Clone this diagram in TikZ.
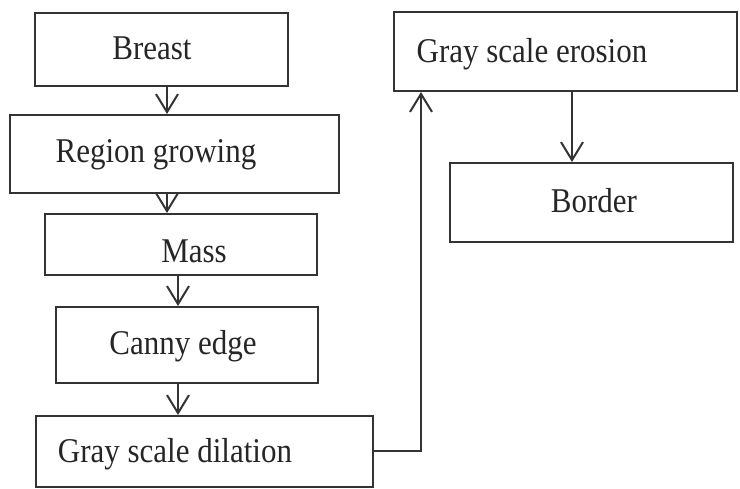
\documentclass[tikz,border=0pt]{standalone}
\usepackage{fontspec}
\setmainfont{Liberation Serif}
\usetikzlibrary{arrows.meta}
\tikzset{
  box/.style={draw=black!80,line width=2pt,inner sep=0pt},
  lbl/.style={inner sep=0pt,anchor=base,text=black!85,font=\fontsize{31}{36}\selectfont},
  arr/.style={draw=black!80,line width=2pt,-{Straight Barb[length=18pt,width=22pt]}}
}
\begin{document}
\begin{tikzpicture}[x=1pt,y=-1pt]
\useasboundingbox (0,0) rectangle (740,489);
%boxes
\foreach\n/\x/\y/\w/\h in {breast/161.5/49.5/253/73,region/174.5/154/329/78,mass/181/244.5/272/61,canny/187/345/262/76,dilation/204.5/451.5/337/71,erosion/565.5/51.5/343/79,border/591.5/202.5/283/79} {
  \node[box,minimum width=\w pt,minimum height=\h pt] (\n) at (\x,\y) {};
}
%texts
\foreach\n/\x/\y/\t in {breast/152/60/Breast,region/156/163/Region growing,mass/194/263/Mass,canny/183/355/Canny edge,dilation/175/462/Gray scale dilation,erosion/532/63/Gray scale erosion,border/594/213/Border} {
  \node[lbl] (\n-t) at (\x,\y) {\scalebox{1}[1.12]{\t}};
}
%arrows
\draw[arr] ([xshift=5.5pt]breast.south) -- ([xshift=5.5pt]breast.south |- region.north);
\draw[arr] ([xshift=-7.5pt]region.south) -- ([xshift=-7.5pt]region.south |- mass.north);
\draw[arr] ([xshift=-3pt]mass.south) -- ([xshift=-3pt]mass.south |- canny.north);
\draw[arr] ([xshift=-9pt]canny.south) -- ([xshift=-9pt]canny.south |- dilation.north);
\draw[arr] (dilation.east) -| ([xshift=28pt]erosion.south west);
\draw[arr] ([xshift=6.5pt]erosion.south) -- ([xshift=6.5pt]erosion.south |- border.north);
\end{tikzpicture}
\end{document}
